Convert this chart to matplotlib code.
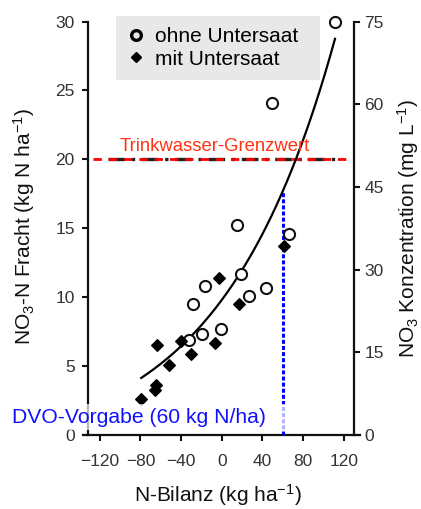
import numpy as np
import matplotlib
matplotlib.use('Agg')
import matplotlib.pyplot as plt
from matplotlib.lines import Line2D
from matplotlib.patches import Rectangle

plt.rcParams['font.family'] = ['Liberation Sans', 'DejaVu Sans']
plt.rcParams['mathtext.fontset'] = 'custom'
plt.rcParams['mathtext.rm'] = 'Liberation Sans'
plt.rcParams['mathtext.it'] = 'Liberation Sans:italic'
plt.rcParams['mathtext.bf'] = 'Liberation Sans:bold'

# ---------------- data ----------------
ohne_x = [14.8, 66.5, 18.7, -16.1, 43.6, 26.6, -28.5, -0.4, -19.4, -31.9, 49.2, 111.4]
ohne_y = [15.2, 14.6, 11.7, 10.8, 10.7, 10.1, 9.5, 7.7, 7.3, 6.9, 24.1, 30.0]
mit_x = [61.3, -3.0, 17.3, -63.9, -40.3, -6.9, -30.5, -52.1, -64.6, -65.9, -79.1]
mit_y = [13.7, 11.4, 9.5, 6.5, 6.8, 6.7, 5.9, 5.1, 3.6, 3.3, 2.6]

# exponential trend y = a*exp(b*x) + c
fit_a, fit_b, fit_c = 11.18, 0.0089, -1.39
fit_xmin, fit_xmax = -79.1, 111.4

grenzwert = 20.0          # kg N/ha  (= 50 mg/L)
dvo_x = 60.0              # kg N/ha
dvo_top = 17.7

x_ticks = [-120, -80, -40, 0, 40, 80, 120]
y_ticks = [0, 5, 10, 15, 20, 25, 30]
y2_ticks = [0, 15, 30, 45, 60, 75]

# ---------------- figure ----------------
W, H = 421, 509
fig = plt.figure(figsize=(W / 100, H / 100), dpi=100)
ax = fig.add_axes([83 / W, (H - 435) / H, 277 / W, 413.5 / H])
ax.set_xlim(-136.4, 136.0)
ax.set_ylim(0, 30)

ax.spines['top'].set_visible(False)
ax.spines['right'].set_visible(False)
ax.spines['left'].set_position(('axes', 0.018))
for s in ['left', 'bottom']:
    ax.spines[s].set_linewidth(1.6)
    ax.spines[s].set_color('#111111')

ax.set_xticks(x_ticks)
ax.set_yticks(y_ticks)
ax.tick_params(axis='both', direction='out', length=4.5, width=1.5,
               labelsize=12.5, labelcolor='#333333', color='#111111')
ax.tick_params(axis='x', pad=9)
ax.tick_params(axis='y', pad=5)

ax2 = ax.twinx()
ax2.set_ylim(0, 75)
for s in ['left', 'top', 'bottom']:
    ax2.spines[s].set_visible(False)
ax2.spines['right'].set_position(('axes', 0.9783))
ax2.spines['right'].set_linewidth(1.6)
ax2.spines['right'].set_color('#111111')
ax2.set_yticks(y2_ticks)
ax2.tick_params(axis='y', direction='out', length=4.5, width=1.5,
                labelsize=12.5, labelcolor='#333333', color='#111111', pad=3)

# threshold lines
ax.plot([-111.6, 116.0], [grenzwert, grenzwert], color='#222222', lw=2.4,
        dashes=(5, 2, 1, 2), zorder=2)
ax.plot([-126.7, 128.0], [grenzwert, grenzwert], color='#ff0000', lw=2.0,
        dashes=(3, 2.5), zorder=2.1)
ax.text(-7, 20.6, 'Trinkwasser-Grenzwert', color='#ff3311', fontsize=13.3,
        ha='center', va='baseline', zorder=5)

# DVO vertical line
ax.plot([dvo_x, dvo_x], [0, dvo_top], color='#0000ff', lw=2.2,
        dashes=(1.3, 0.7), zorder=3)

# trend
xs = np.linspace(fit_xmin, fit_xmax, 200)
ax.plot(xs, fit_a * np.exp(fit_b * xs) + fit_c, color='black', lw=1.6, zorder=4)

# points
ax.plot(ohne_x, ohne_y, 'o', ms=8, mfc='white', mec='#111111', mew=1.5,
        clip_on=False, zorder=6)
ax.plot(mit_x, mit_y, 'D', ms=6.5, mfc='black', mec='black', mew=0.8,
        clip_on=False, zorder=6)

# labels
ax.set_xlabel('N-Bilanz (kg ha$^{-1}$)', fontsize=15, color='#111111')
ax.set_ylabel('NO$_3$-N Fracht (kg N ha$^{-1}$)', fontsize=15, color='#111111')
ax2.set_ylabel('NO$_3$ Konzentration (mg L$^{-1}$)', fontsize=15, color='#111111')
ax.xaxis.set_label_coords(0.487, -0.115)
ax.yaxis.set_label_coords(-0.165, 0.505)
ax2.yaxis.set_label_coords(1.125, 0.5)

# legend
h1 = Line2D([], [], marker='o', ls='none', ms=7, mfc='none', mec='black', mew=2.4)
h2 = Line2D([], [], marker='D', ls='none', ms=5, mfc='black', mec='black')
leg = fig.legend([h1, h2], ['ohne Untersaat', 'mit Untersaat'],
                 loc='upper left',
                 bbox_to_anchor=(116 / W, 1 - 16 / H - 0.01, 204 / W, 0.01),
                 mode='expand', fontsize=15, frameon=True, fancybox=False,
                 facecolor='#e8e8e8', edgecolor='none', framealpha=1,
                 handlelength=0.8, handletextpad=0.5, borderpad=0.55,
                 labelspacing=0.15, borderaxespad=0)

# white veil under the DVO label and the label itself
fig.add_artist(Rectangle((5 / W, (H - 430) / H), 282 / W, 26 / H,
                         transform=fig.transFigure, facecolor='white',
                         alpha=0.7, edgecolor='none', zorder=3))
fig.text(11.7 / W, (H - 422.7) / H, 'DVO-Vorgabe (60 kg N/ha)', color='#1111ff',
         fontsize=15.2, ha='left', va='baseline', zorder=4)

fig.savefig('out.png', dpi=100)
